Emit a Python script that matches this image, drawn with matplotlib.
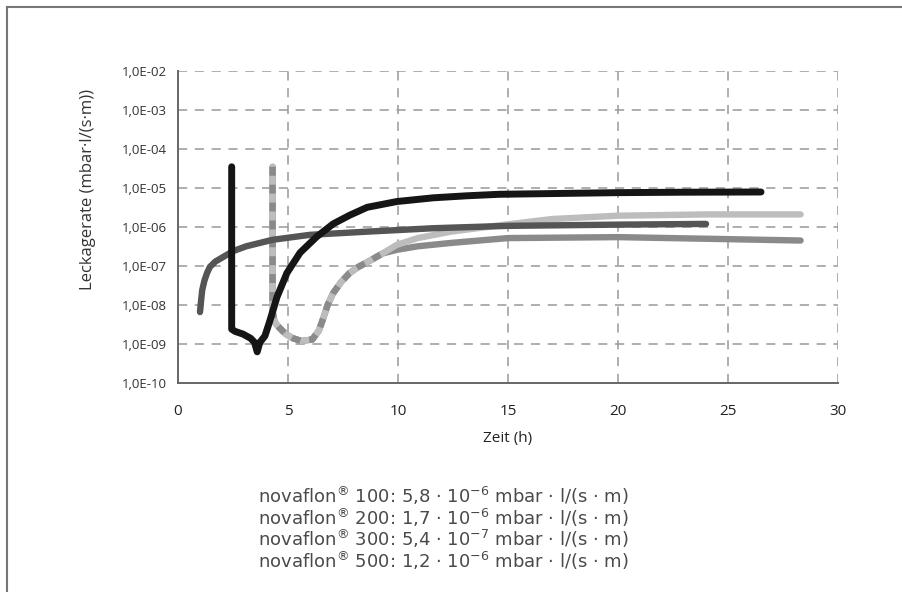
import matplotlib.pyplot as plt
from matplotlib.lines import Line2D

# novaflon 100 (schwarz)
x_100 = [2.44, 2.44, 2.6, 2.95, 3.3, 3.48, 3.6, 3.72, 3.95, 4.18, 4.5, 4.95, 5.55,
         6.3, 7.05, 7.8, 8.6, 9.95, 11.6, 13.1, 14.6, 17, 20, 23, 26.5]
y_100 = [3.5e-5, 2.4e-9, 2.1e-9, 1.8e-9, 1.4e-9, 1.1e-9, 6.3e-10, 1.1e-9, 1.6e-9, 4.0e-9,
         1.6e-8, 6.6e-8, 2.2e-7, 5.6e-7, 1.2e-6, 2.0e-6, 3.2e-6, 4.5e-6, 5.6e-6, 6.3e-6,
         6.9e-6, 7.2e-6, 7.6e-6, 7.8e-6, 7.9e-6]

# novaflon 500 (dunkelgrau)
x_500 = [1.0, 1.05, 1.1, 1.2, 1.32, 1.45, 1.7, 2.05, 2.5, 3.1, 4.3, 6.0, 8.6, 11.6, 15, 20, 24]
y_500 = [6.6e-9, 1.3e-8, 2.4e-8, 4.2e-8, 6.6e-8, 9.5e-8, 1.3e-7, 1.7e-7, 2.4e-7, 3.2e-7,
         4.7e-7, 6.3e-7, 7.6e-7, 9.3e-7, 1.07e-6, 1.15e-6, 1.2e-6]

# gemeinsamer Anfang von novaflon 200 und 300 (gestrichelt)
x_shared = [4.3, 4.3, 4.35, 4.45, 4.64, 4.9, 5.23, 5.6, 6.1, 6.4, 6.6, 6.8, 7.05, 7.4, 7.8,
            8.2, 8.6, 9.3]
y_shared = [3.5e-5, 7.1e-9, 4.5e-9, 3.3e-9, 2.5e-9, 1.8e-9, 1.4e-9, 1.2e-9, 1.3e-9, 2.2e-9,
            4.5e-9, 1.0e-8, 2.0e-8, 3.8e-8, 6.6e-8, 9.5e-8, 1.25e-7, 2.1e-7]

# novaflon 200 (hellgrau)
x_200 = x_shared + [9.95, 10.9, 12.4, 14.6, 17, 20, 24, 28.3]
y_200 = y_shared + [3.5e-7, 5.2e-7, 7.6e-7, 1.1e-6, 1.6e-6, 1.95e-6, 2.1e-6, 2.1e-6]

# novaflon 300 (mittelgrau)
x_300 = x_shared + [9.95, 10.9, 12.4, 15, 20, 24, 28.3]
y_300 = y_shared + [2.6e-7, 3.2e-7, 3.9e-7, 5.2e-7, 5.5e-7, 5.0e-7, 4.5e-7]

x_ticks = [0, 5, 10, 15, 20, 25, 30]
y_ticks = [1e-10, 1e-9, 1e-8, 1e-7, 1e-6, 1e-5, 1e-4, 1e-3, 1e-2]
y_labels = ['1,0E-10', '1,0E-09', '1,0E-08', '1,0E-07', '1,0E-06',
            '1,0E-05', '1,0E-04', '1,0E-03', '1,0E-02']

legend_lines = [
    ('100', '5,8', '-6'),
    ('200', '1,7', '-6'),
    ('300', '5,4', '-7'),
    ('500', '1,2', '-6'),
]

plt.rcParams['font.family'] = ['Open Sans', 'DejaVu Sans']
plt.rcParams['mathtext.default'] = 'regular'

fig = plt.figure(figsize=(9.03, 5.92), dpi=100)
ax = fig.add_axes([178 / 903, 1 - 383 / 592, 660 / 903, 312 / 592])

lw = 4.6
ax.plot(x_300, y_300, color='#8a8a8a', lw=lw, solid_capstyle='round', zorder=3)
ax.plot(x_200, y_200, color='#bdbdbd', lw=lw, solid_capstyle='round', zorder=4)
ax.plot(x_shared, y_shared, color='#8a8a8a', lw=lw, dashes=(1.4, 1.4), zorder=5)
ax.plot(x_500, y_500, color='#555555', lw=lw, solid_capstyle='round', zorder=6)
ax.plot(x_100, y_100, color='#151515', lw=lw + 0.4, solid_capstyle='round',
        solid_joinstyle='round', zorder=7)

ax.set_yscale('log')
ax.set_xlim(0, 30)
ax.set_ylim(1e-10, 1e-2)
ax.set_xticks(x_ticks)
ax.set_yticks(y_ticks)
ax.set_yticklabels(y_labels)
ax.minorticks_off()
ax.tick_params(length=0)
ax.tick_params(axis='y', labelsize=9.5, colors='#333333', pad=8)
ax.tick_params(axis='x', labelsize=11, colors='#222222', pad=15)

for x in x_ticks[1:]:
    ax.axvline(x, color='#999999', lw=1.1, dashes=(6, 5), zorder=1)
for y in y_ticks[1:]:
    ax.axhline(y, color='#999999', lw=1.1, dashes=(6, 5), zorder=1)

for s in ['top', 'right']:
    ax.spines[s].set_visible(False)
for s in ['left', 'bottom']:
    ax.spines[s].set_color('#666666')
    ax.spines[s].set_linewidth(1.4)

ax.set_xlabel('Zeit (h)', fontsize=11, color='#222222', labelpad=9)
fig.text(88 / 903, 1 - 190 / 592, 'Leckagerate (mbar·l/(s·m))', rotation=90,
         ha='center', va='center', fontsize=12, color='#333333')

zeilen = []
for typ, wert, exp in legend_lines:
    zeilen.append('novaflon$^{®}$ ' + typ + ': ' + wert + ' · 10$^{' + exp + '}$ mbar · l/(s · m)')
fig.text(443 / 903, 1 - 528 / 592, '\n'.join(zeilen), ha='center', va='center',
         multialignment='center', linespacing=0.93,
         fontsize=13, color='#4a4a4a', family=['DejaVu Sans'])

# Rahmen
fig.add_artist(Line2D([7 / 903, 7 / 903], [0, 1 - 7 / 592], color='#777777', lw=1.5,
                      transform=fig.transFigure))
fig.add_artist(Line2D([7 / 903, 1], [1 - 7 / 592, 1 - 7 / 592], color='#777777', lw=1.5,
                      transform=fig.transFigure))

fig.savefig('out.png', dpi=100)
